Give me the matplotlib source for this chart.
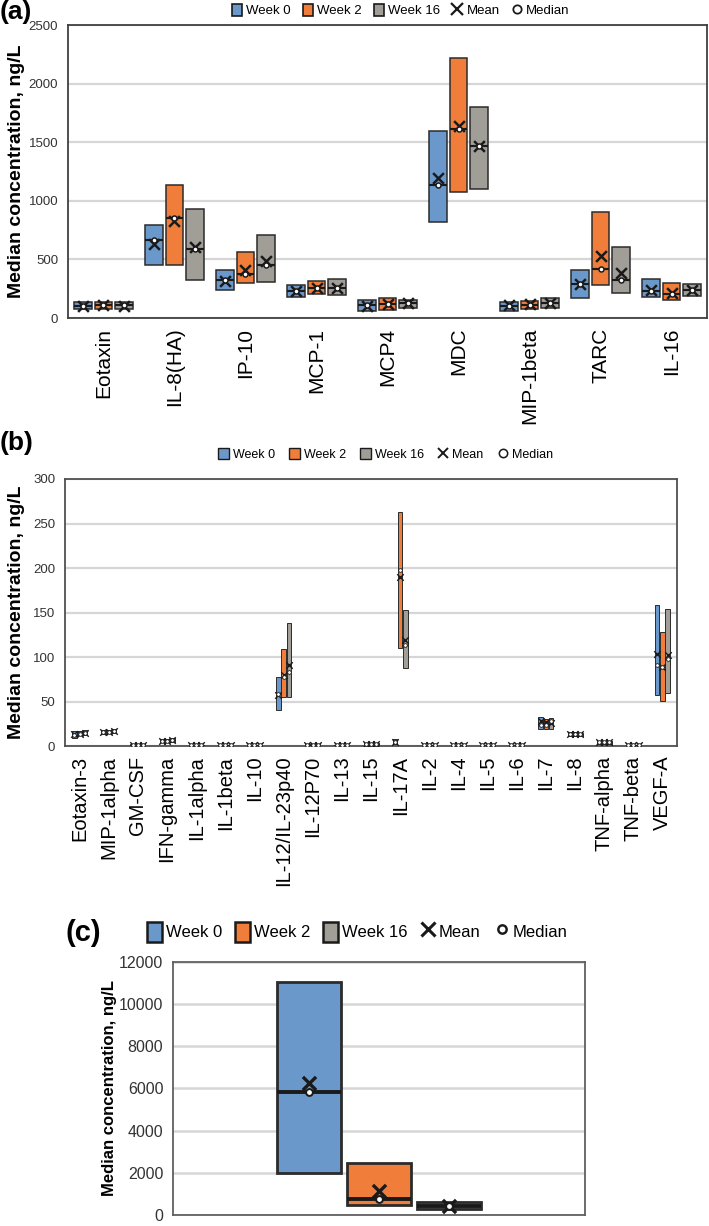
import matplotlib.pyplot as plt
from matplotlib.patches import Patch
from matplotlib.lines import Line2D
import numpy as np

weeks = ['Week 0', 'Week 2', 'Week 16']
colors = ['#6b98cb', '#f07d3a', '#a19d97']

# (a) chemokines, rows = Week 0 / Week 2 / Week 16
a_cats = ['Eotaxin', 'IL-8(HA)', 'IP-10', 'MCP-1', 'MCP4', 'MDC', 'MIP-1beta', 'TARC', 'IL-16']
a_low = [[75, 454, 236, 178, 63, 822, 63, 172, 178],
         [80, 454, 296, 201, 69, 1075, 80, 279, 158],
         [75, 328, 308, 195, 86, 1104, 86, 213, 187]]
a_high = [[140, 790, 408, 285, 152, 1595, 138, 408, 333],
          [138, 1132, 560, 313, 172, 2222, 149, 905, 299],
          [140, 931, 710, 336, 158, 1802, 172, 603, 287]]
a_med = [[105, 667, 322, 230, 109, 1132, 106, 287, 230],
         [110, 856, 379, 253, 121, 1615, 115, 422, 201],
         [108, 586, 454, 253, 124, 1466, 129, 325, 236]]
a_mean = [[100, 632, 316, 230, 105, 1193, 109, 287, 241],
          [108, 828, 408, 259, 121, 1638, 121, 526, 213],
          [105, 609, 489, 253, 129, 1466, 129, 388, 236]]

# (b) cytokines
b_cats = ['Eotaxin-3', 'MIP-1alpha', 'GM-CSF', 'IFN-gamma', 'IL-1alpha', 'IL-1beta', 'IL-10',
          'IL-12/IL-23p40', 'IL-12P70', 'IL-13', 'IL-15', 'IL-17A', 'IL-2', 'IL-4', 'IL-5',
          'IL-6', 'IL-7', 'IL-8', 'TNF-alpha', 'TNF-beta', 'VEGF-A']
b_low = [[9, 14, 0.5, 4, 0.3, 0.3, 0.3, 41, 0.5, 0.3, 1, 2, 0.3, 0.3, 0.3, 0.3, 19, 11, 2.5, 0.3, 57],
         [12, 15, 0.5, 5, 0.3, 0.3, 0.3, 55, 0.5, 0.3, 1, 110, 0.3, 0.3, 0.3, 0.3, 19, 11, 2.5, 0.3, 51],
         [12, 15, 0.5, 5, 0.3, 0.3, 0.3, 55, 0.5, 0.3, 1, 88, 0.3, 0.3, 0.3, 0.3, 19, 11, 2.5, 0.3, 60]]
b_high = [[17, 18, 2.5, 8, 1.5, 1.5, 1.5, 78, 2.5, 1.5, 3, 8, 1.5, 1.5, 1.5, 1.5, 33, 16, 5.5, 1.5, 158],
          [17, 18, 2.5, 8, 1.5, 1.5, 1.5, 109, 2.5, 1.5, 3, 263, 1.5, 1.5, 1.5, 1.5, 30, 16, 5.5, 1.5, 128],
          [18, 19, 2.5, 9, 1.5, 1.5, 1.5, 138, 2.5, 1.5, 3, 153, 1.5, 1.5, 1.5, 1.5, 32, 15, 5.5, 1.5, 154]]
b_med = [[12, 16, 1.5, 6, 1, 1, 1, 59, 1.5, 1, 2, 5, 1, 1, 1, 1, 24, 13, 4, 1, 91],
         [14, 16, 1.5, 6, 1, 1, 1, 77, 1.5, 1, 2, 198, 1, 1, 1, 1, 24, 14, 4, 1, 89],
         [15, 17, 1.5, 7, 1, 1, 1, 83, 1.5, 1, 2, 113, 1, 1, 1, 1, 28, 13, 4, 1, 98]]
b_mean = [[13, 16, 1.5, 6, 1, 1, 1, 57, 1.5, 1, 2, 5, 1, 1, 1, 1, 28, 13, 4, 1, 103],
          [14, 16, 1.5, 6, 1, 1, 1, 80, 1.5, 1, 2, 190, 1, 1, 1, 1, 27, 14, 4, 1, 89],
          [15, 17, 1.5, 7, 1, 1, 1, 91, 1.5, 1, 2, 119, 1, 1, 1, 1, 26, 13, 4, 1, 102]]

# (c) single analyte
c_low = [[1980], [476], [270]]
c_high = [[11030], [2460], [635]]
c_med = [[5840], [760], [444]]
c_mean = [[6250], [1160], [444]]

regular = ['Liberation Sans', 'DejaVu Sans']


def draw_boxes(ax, n, low, high, med, mean, width, step, lw, sx, so, mew):
    x = np.arange(n)
    for i in range(3):
        xi = x + (i - 1) * step
        lo = np.array(low[i], float)
        hi = np.array(high[i], float)
        ax.bar(xi, hi - lo, bottom=lo, width=width, color=colors[i],
               edgecolor='#2b2b2b', linewidth=lw, zorder=3)
        ax.hlines(med[i], xi - width / 2, xi + width / 2, color='#1a1a1a',
                  linewidth=lw * 1.4, zorder=4)
        ax.scatter(xi, mean[i], marker='x', s=sx, color='#1a1a1a',
                   linewidths=mew, zorder=5)
        ax.scatter(xi, med[i], marker='o', s=so, facecolor='white',
                   edgecolor='#1a1a1a', linewidths=mew * 0.6, zorder=6)


def style_axes(ax, ymax, step, ticksize, spine_c, grid_lw):
    ax.set_ylim(0, ymax)
    ax.set_yticks(np.arange(0, ymax + 1, step))
    ax.yaxis.grid(True, color='#d6d6d6', linewidth=grid_lw, zorder=0)
    ax.set_axisbelow(True)
    ax.tick_params(length=0, pad=7)
    for s in ax.spines.values():
        s.set_color(spine_c)
        s.set_linewidth(1.3)
    for t in ax.get_yticklabels():
        t.set_family(regular)
        t.set_fontsize(ticksize)
        t.set_color('#333333')


def legend_handles(lw, ms_x, ms_o, mew):
    h = [Patch(facecolor=c, edgecolor='#1a1a1a', linewidth=lw) for c in colors]
    h.append(Line2D([], [], ls='none', marker='x', color='#1a1a1a', ms=ms_x, mew=mew))
    h.append(Line2D([], [], ls='none', marker='o', mfc='white', mec='#1a1a1a', ms=ms_o, mew=mew * 0.8))
    return h


labels = weeks + ['Mean', 'Median']

fig = plt.figure(figsize=(7.09, 12.26), dpi=100)

# ---- (a)
ax1 = fig.add_axes([0.0959, 0.7406, 0.9013, 0.239])
draw_boxes(ax1, len(a_cats), a_low, a_high, a_med, a_mean, 0.25, 0.285, 1.1, 60, 13, 1.8)
ax1.set_xlim(-0.5, len(a_cats) - 0.5)
ax1.set_xticks(np.arange(len(a_cats)))
ax1.set_xticklabels(a_cats, rotation=90, fontsize=15, family=regular)
style_axes(ax1, 2500, 500, 9.5, '#404040', 1.6)
ax1.set_ylabel('Median concentration, ng/L', fontsize=14, fontweight='bold', family=regular)
ax1.yaxis.set_label_coords(-0.068, 0.5)
fig.legend(legend_handles(1.2, 8, 6, 1.6), labels, loc='center', bbox_to_anchor=(0.565, 0.9915),
           ncol=5, frameon=False, prop={'family': regular, 'size': 9.5},
           handlelength=0.8, handleheight=1.0, handletextpad=0.3, columnspacing=0.9)
fig.text(0.0, 0.9905, '(a)', fontsize=19, fontweight='bold', family=regular, va='center')

# ---- (b)
ax2 = fig.add_axes([0.0917, 0.3915, 0.8632, 0.2178])
draw_boxes(ax2, len(b_cats), b_low, b_high, b_med, b_mean, 0.155, 0.18, 0.7, 22, 7, 1.0)
ax2.set_xlim(-0.5, len(b_cats) - 0.5)
ax2.set_xticks(np.arange(len(b_cats)))
ax2.set_xticklabels(b_cats, rotation=90, fontsize=14.5, family=regular)
style_axes(ax2, 300, 50, 9.5, '#505050', 1.6)
ax2.set_ylabel('Median concentration, ng/L', fontsize=14, fontweight='bold', family=regular)
ax2.yaxis.set_label_coords(-0.066, 0.5)
fig.legend(legend_handles(1.0, 7, 6, 1.4), labels, loc='center', bbox_to_anchor=(0.544, 0.6295),
           ncol=5, frameon=False, prop={'family': regular, 'size': 9},
           handlelength=0.9, handleheight=1.0, handletextpad=0.3, columnspacing=1.1)
fig.text(0.0, 0.6385, '(b)', fontsize=19, fontweight='bold', family=regular, va='center')

# ---- (c)
ax3 = fig.add_axes([0.244, 0.009, 0.581, 0.2064])
draw_boxes(ax3, 1, c_low, c_high, c_med, c_mean, 0.155, 0.17, 2.0, 90, 24, 2.4)
ax3.set_xlim(-0.5, 0.5)
ax3.set_xticks([])
style_axes(ax3, 12000, 2000, 11.5, '#606060', 1.8)
ax3.set_ylabel('Median concentration, ng/L', fontsize=12, fontweight='bold', family=regular)
ax3.yaxis.set_label_coords(-0.136, 0.5)
fig.legend(legend_handles(1.8, 10, 6, 2.2), labels, loc='center', bbox_to_anchor=(0.504, 0.2400),
           ncol=5, frameon=False, prop={'family': regular, 'size': 12},
           handlelength=0.9, handleheight=1.5, handletextpad=0.2, columnspacing=0.8)
fig.text(0.093, 0.2390, '(c)', fontsize=21, fontweight='bold', family=regular, va='center')

fig.savefig('out.png', dpi=100)
